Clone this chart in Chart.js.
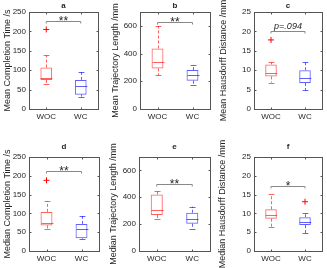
<!DOCTYPE html>
<html>
<head>
<meta charset="utf-8">
<script src="https://cdn.jsdelivr.net/npm/chart.js@4.4.0/dist/chart.umd.min.js"></script>
<style>
  body { margin: 0; background: #fff; }
  #wrap { position: relative; width: 327px; height: 268px; overflow: hidden; }
  #wrap canvas { position: absolute; }
</style>
</head>
<body>
<div id="wrap"></div>
<script>
// groups on the x axis
const groups = ["WOC", "WC"];

// each box: [lower whisker, q1, median, q3, upper whisker]
const meanTimeWOC = [65, 75, 81, 107, 138];
const meanTimeWC = [32, 37, 59, 75, 95];
const meanTimeOut = [205, null];

const meanTrajWOC = [245, 293, 336, 437, 600];
const meanTrajWC = [170, 204, 245, 281, 318];
const meanTrajOut = [null, null];

const meanHausWOC = [6.8, 8.4, 9.3, 11.5, 12];
const meanHausWC = [4.8, 6.7, 8, 10, 12];
const meanHausOut = [17.8, null];

const medTimeWOC = [58, 68, 74, 104, 132];
const medTimeWC = [32, 34, 58, 72, 93];
const medTimeOut = [188, null];

const medTrajWOC = [235, 268, 302, 421, 446];
const medTrajWC = [166, 203, 235, 285, 330];
const medTrajOut = [null, null];

const medHausWOC = [6.4, 8.6, 9.7, 11.1, 15.1];
const medHausWC = [4.8, 6.9, 7.8, 9.0, 10.2];
const medHausOut = [null, 13.1];

// y ticks
const timeTicks = [0, 50, 100, 150, 200, 250];
const trajTicks = [0, 200, 400, 600];
const hausTicks = [0, 5, 10, 15, 20, 25];

// significance labels and bracket heights
const sigLabels = ["**", "**", "p=.094", "**", "**", "*"];
const sigHeights = [227, 629, 20, 212, 500, 17.3];

const boxColors = ["rgba(255,0,0,0.62)", "rgba(0,0,255,0.62)"];
const outColor = "#ff0000";
const axisColor = "#555555";
const textColor = "#262626";
const FONT = "'Liberation Sans', Arial, Helvetica, sans-serif";

const panels = [
  { title: "a", yLabel: "Mean Completion Time /s", boxes: [meanTimeWOC, meanTimeWC], out: meanTimeOut, ticks: timeTicks, max: 250,
    left: 0, top: 0, w: 103, h: 134, axisW: 29, padTop: 12, xAxisH: 25, titleY: 6 },
  { title: "b", yLabel: "Mean Trajectory Length /mm", boxes: [meanTrajWOC, meanTrajWC], out: meanTrajOut, ticks: trajTicks, max: 700,
    left: 108, top: 0, w: 107, h: 134, axisW: 32, padTop: 12, xAxisH: 25, titleY: 6 },
  { title: "c", yLabel: "Mean Hausdorff Distance /mm", boxes: [meanHausWOC, meanHausWC], out: meanHausOut, ticks: hausTicks, max: 25,
    left: 216, top: 0, w: 111, h: 134, axisW: 38, padTop: 12, xAxisH: 25, titleY: 6 },
  { title: "d", yLabel: "Median Completion Time /s", boxes: [medTimeWOC, medTimeWC], out: medTimeOut, ticks: timeTicks, max: 250,
    left: 0, top: 134, w: 104, h: 134, axisW: 29, padTop: 23, xAxisH: 17, titleY: 13 },
  { title: "e", yLabel: "Median Trajectory Length /mm", boxes: [medTrajWOC, medTrajWC], out: medTrajOut, ticks: trajTicks, max: 700,
    left: 106, top: 134, w: 109, h: 134, axisW: 33, padTop: 23, xAxisH: 17, titleY: 13 },
  { title: "f", yLabel: "Median Hausdorff Distance /mm", boxes: [medHausWOC, medHausWC], out: medHausOut, ticks: hausTicks, max: 25,
    left: 215, top: 134, w: 112, h: 134, axisW: 39, padTop: 23, xAxisH: 17, titleY: 13 }
];

function seg(ctx, x1, y1, x2, y2) {
  ctx.beginPath();
  ctx.moveTo(x1, y1);
  ctx.lineTo(x2, y2);
  ctx.stroke();
}
const px = v => Math.round(v) + 0.5;

// whiskers, caps, medians, frame, ticks, title and significance bracket
const boxParts = {
  id: "boxParts",
  afterDatasetsDraw(chart, args, opts) {
    const p = opts.panel;
    const idx = opts.idx;
    const { ctx, chartArea: ca, scales: { x, y } } = chart;
    const bars = chart.getDatasetMeta(0).data;
    ctx.save();
    ctx.lineWidth = 1;

    p.boxes.forEach((s, i) => {
      const cx = px(x.getPixelForValue(i));
      const half = bars[i].width / 2;
      const [lo, q1, med, q3, hi] = s;
      ctx.strokeStyle = boxColors[i];
      ctx.setLineDash([3, 2]);
      seg(ctx, cx, y.getPixelForValue(q3), cx, y.getPixelForValue(hi));
      seg(ctx, cx, y.getPixelForValue(q1), cx, y.getPixelForValue(lo));
      ctx.setLineDash([]);
      seg(ctx, cx - half / 2, px(y.getPixelForValue(hi)), cx + half / 2, px(y.getPixelForValue(hi)));
      seg(ctx, cx - half / 2, px(y.getPixelForValue(lo)), cx + half / 2, px(y.getPixelForValue(lo)));
      seg(ctx, cx - half, px(y.getPixelForValue(med)), cx + half, px(y.getPixelForValue(med)));
    });

    // frame with inward ticks
    const l = px(ca.left), r = px(ca.right), t = px(ca.top), b = px(ca.bottom);
    ctx.strokeStyle = axisColor;
    ctx.strokeRect(l, t, r - l, b - t);
    p.ticks.forEach(v => {
      const ty = px(y.getPixelForValue(v));
      seg(ctx, l, ty, l + 2, ty);
      seg(ctx, r, ty, r - 2, ty);
    });
    groups.forEach((g, i) => {
      const tx = px(x.getPixelForValue(i));
      seg(ctx, tx, b, tx, b - 2);
      seg(ctx, tx, t, tx, t + 2);
    });

    // significance bracket
    const x0 = x.getPixelForValue(0), x1 = x.getPixelForValue(1);
    const by = px(y.getPixelForValue(sigHeights[idx]));
    ctx.strokeStyle = "#888888";
    ctx.beginPath();
    ctx.moveTo(x0, by + 2);
    ctx.lineTo(x0, by);
    ctx.lineTo(x1, by);
    ctx.lineTo(x1, by + 2);
    ctx.stroke();
    ctx.fillStyle = textColor;
    ctx.textAlign = "center";
    const label = sigLabels[idx];
    if (label.startsWith("p")) {
      ctx.font = "italic 9px " + FONT;
      ctx.textBaseline = "bottom";
      ctx.fillText(label, (x0 + x1) / 2, by - 1);
    } else {
      ctx.font = "12px " + FONT;
      ctx.textBaseline = "alphabetic";
      ctx.fillText(label, (x0 + x1) / 2, by + 3);
    }

    // panel letter
    ctx.font = "bold 8px " + FONT;
    ctx.textBaseline = "middle";
    ctx.fillText(p.title, (ca.left + ca.right) / 2, p.titleY);
    ctx.restore();
  }
};

const wrap = document.getElementById("wrap");

panels.forEach((p, idx) => {
  const cv = document.createElement("canvas");
  cv.width = p.w;
  cv.height = p.h;
  cv.style.left = p.left + "px";
  cv.style.top = p.top + "px";
  cv.style.width = p.w + "px";
  cv.style.height = p.h + "px";
  wrap.appendChild(cv);

  new Chart(cv.getContext("2d"), {
    type: "bar",
    data: {
      labels: groups,
      datasets: [
        {
          data: p.boxes.map(s => [s[1], s[3]]),
          backgroundColor: "rgba(0,0,0,0)",
          borderColor: boxColors,
          borderWidth: 1,
          borderSkipped: false,
          barPercentage: 0.34,
          categoryPercentage: 1
        },
        {
          type: "line",
          data: p.out,
          showLine: false,
          pointStyle: "cross",
          pointRadius: 3,
          pointBorderColor: outColor,
          pointBackgroundColor: outColor,
          pointBorderWidth: 1
        }
      ]
    },
    options: {
      responsive: false,
      animation: false,
      devicePixelRatio: 1,
      layout: { padding: { top: p.padTop, right: 3, left: 0, bottom: 0 } },
      plugins: {
        legend: { display: false },
        tooltip: { enabled: false },
        boxParts: { panel: p, idx: idx }
      },
      scales: {
        x: {
          grid: { display: false, drawTicks: false, tickLength: 0 },
          border: { display: false },
          ticks: { color: textColor, font: { family: FONT, size: 8 }, padding: 3 },
          afterFit: s => { s.height = p.xAxisH; }
        },
        y: {
          min: 0,
          max: p.max,
          grid: { display: false, drawTicks: false, tickLength: 0 },
          border: { display: false },
          ticks: { color: textColor, font: { family: FONT, size: 8 }, padding: 3 },
          afterBuildTicks: s => { s.ticks = p.ticks.map(v => ({ value: v })); },
          afterFit: s => { s.width = p.axisW; },
          title: {
            display: true,
            text: p.yLabel,
            color: textColor,
            font: { family: FONT, size: 9 },
            padding: { top: 2, bottom: 0 }
          }
        }
      }
    },
    plugins: [boxParts]
  });
});
</script>
</body>
</html>
